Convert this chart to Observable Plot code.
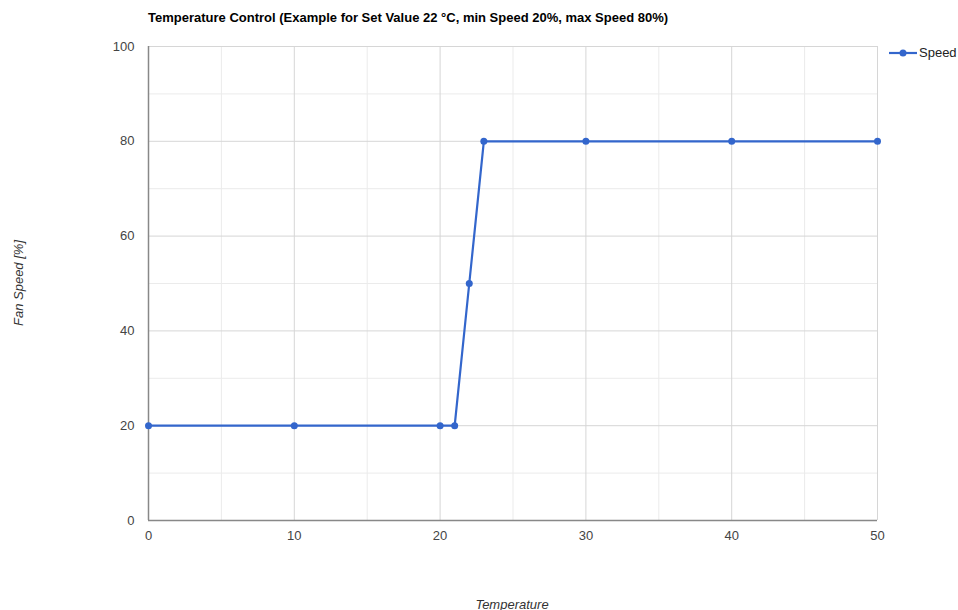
<!DOCTYPE html>
<html><head><meta charset="utf-8">
<script src="https://cdn.jsdelivr.net/npm/d3@7"></script>
<script src="https://cdn.jsdelivr.net/npm/@observablehq/plot@0.6"></script>
<style>
body{margin:0;background:#fff;font-family:Arial,"Liberation Sans",sans-serif;}
#wrap{position:relative;width:958px;height:610px;overflow:hidden;}
#title{position:absolute;left:148px;top:10px;font-size:13px;font-weight:bold;color:#000;white-space:nowrap;}
#ylab{position:absolute;left:18px;top:283px;transform:translate(-50%,-50%) rotate(-90deg);font-size:13px;font-style:italic;color:#333;white-space:nowrap;}
#xlab{position:absolute;left:512px;top:604px;transform:translate(-50%,-50%);font-size:13px;font-style:italic;color:#333;white-space:nowrap;}
#legend{position:absolute;left:889px;top:45px;font-size:13px;color:#222;display:flex;align-items:center;gap:2px;white-space:nowrap;}
svg{position:absolute;left:0;top:0;}
</style>
</head><body>
<div id="wrap">
<div id="title"></div>
<div id="ylab"></div>
<div id="xlab"></div>
<div id="legend"></div>
</div>
<script>
const titleText = "Temperature Control (Example for Set Value 22 °C, min Speed 20%, max Speed 80%)";
const xLabel = "Temperature";
const yLabel = "Fan Speed [%]";
const seriesName = "Speed";
const temperature = [0, 10, 20, 21, 22, 23, 30, 40, 50];
const speed = [20, 20, 20, 20, 50, 80, 80, 80, 80];
const xTicks = [0, 10, 20, 30, 40, 50];
const xMinor = [5, 15, 25, 35, 45];
const yTicks = [0, 20, 40, 60, 80, 100];
const yMinor = [10, 30, 50, 70, 90];
const color = "#3366cc";

const data = temperature.map((t, i) => ({t, s: speed[i]}));

const chart = Plot.plot({
  width: 958, height: 610,
  marginLeft: 148, marginRight: 81, marginTop: 46, marginBottom: 90,
  style: {fontFamily: "Arial, 'Liberation Sans', sans-serif", fontSize: "13px", color: "#444", background: "transparent"},
  x: {domain: [0, 50], ticks: xTicks, tickSize: 0, tickPadding: 10, label: null},
  y: {domain: [0, 100], ticks: yTicks, tickSize: 0, tickPadding: 14, label: null},
  marks: [
    Plot.ruleX(xMinor, {stroke: "#ebebeb", strokeWidth: 1}),
    Plot.ruleY(yMinor, {stroke: "#ebebeb", strokeWidth: 1}),
    Plot.ruleX(xTicks.filter(d => d > 0), {stroke: "#d6d6d6", strokeWidth: 1}),
    Plot.ruleY(yTicks.filter(d => d > 0), {stroke: "#d6d6d6", strokeWidth: 1}),
    Plot.ruleX([0], {stroke: "#888", strokeWidth: 1.5}),
    Plot.ruleY([0], {stroke: "#888", strokeWidth: 1.5}),
    Plot.line(data, {x: "t", y: "s", stroke: color, strokeWidth: 2.2}),
    Plot.dot(data, {x: "t", y: "s", fill: color, r: 3.5}),
    Plot.axisX({ticks: xTicks, tickSize: 0, tickPadding: 10, fill: "#444"}),
    Plot.axisY({ticks: yTicks, tickSize: 0, tickPadding: 14, fill: "#444"})
  ]
});
document.getElementById("wrap").prepend(chart);
document.getElementById("title").textContent = titleText;
document.getElementById("ylab").textContent = yLabel;
document.getElementById("xlab").textContent = xLabel;
document.getElementById("legend").innerHTML =
  `<svg width="28" height="12" style="position:static"><line x1="0" y1="6" x2="28" y2="6" stroke="${color}" stroke-width="2.2"/><circle cx="14" cy="6" r="3.5" fill="${color}"/></svg><span></span>`;
document.querySelector("#legend span").textContent = seriesName;
</script>
</body></html>
